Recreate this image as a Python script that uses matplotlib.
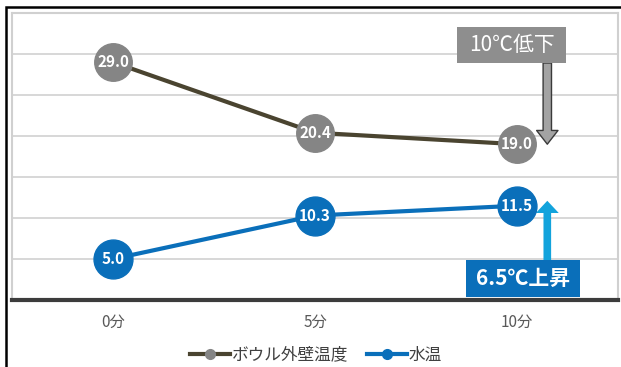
import matplotlib.pyplot as plt
from matplotlib.lines import Line2D
from matplotlib.patches import Rectangle

plt.rcParams['font.family'] = ['Noto Sans CJK JP', 'DejaVu Sans']

times = ['0分', '5分', '10分']
wall_temp = [29.0, 20.4, 19.0]
water_temp = [5.0, 10.3, 11.5]
wall_label = 'ボウル外壁温度'
water_label = '水温'
drop_text = '10℃低下'
rise_text = '6.5℃上昇'

wall_color = '#4a4430'
wall_marker = '#858585'
water_color = '#0a6fba'
rise_arrow = '#12a3dc'

W, H = 621, 367
fig = plt.figure(figsize=(W / 100, H / 100), dpi=100)
ax = fig.add_axes([12 / W, 67 / H, 606 / W, 287 / H])

x = range(len(times))
ax.plot(x, wall_temp, color=wall_color, lw=3, marker='o', ms=27,
        mfc=wall_marker, mec=wall_marker, zorder=3)
ax.plot(x, water_temp, color=water_color, lw=3, marker='o', ms=28,
        mfc=water_color, mec=water_color, zorder=3)

for xi, v in zip(x, wall_temp):
    ax.text(xi, v, f'{v:.1f}', color='white', fontsize=11, fontweight='bold',
            ha='center', va='center', zorder=4)
for xi, v in zip(x, water_temp):
    ax.text(xi, v, f'{v:.1f}', color='white', fontsize=11, fontweight='bold',
            ha='center', va='center', zorder=4)

ax.set_xlim(-0.5, 2.5)
ax.set_ylim(0, 35)
ax.set_xticks(list(x))
ax.set_xticklabels(times, color='#595959', fontsize=11)
ax.set_yticks(range(5, 35, 5))
ax.tick_params(axis='y', left=False, labelleft=False)
ax.tick_params(axis='x', length=0, pad=10)
ax.grid(axis='y', color='#d4d4d4', lw=1.3)
ax.set_axisbelow(True)
for s in ['left', 'top', 'right']:
    ax.spines[s].set_color('#d0d0d0')
    ax.spines[s].set_linewidth(1.5)
ax.spines['bottom'].set_color('#3c3c3c')
ax.spines['bottom'].set_linewidth(3)

# change annotations on the right side
arrow_x = 2.15
ax.annotate('', xy=(arrow_x, wall_temp[-1]), xytext=(arrow_x, 28.9),
            arrowprops=dict(arrowstyle='simple,head_length=0.9,head_width=1.4,tail_width=0.55',
                            fc='#a3a3a3', ec='#3a3a3a', lw=1, mutation_scale=11,
                            shrinkA=0, shrinkB=0), zorder=2)
ax.add_patch(Rectangle((1.703, 28.9), 0.54, 4.4, fc='#8e8e8e', ec='none', zorder=5))
ax.text(1.973, 31.1, drop_text, color='white', fontsize=15,
        ha='center', va='center', zorder=6)

ax.annotate('', xy=(arrow_x, water_temp[-1] + 0.6), xytext=(arrow_x, 4.8),
            arrowprops=dict(arrowstyle='simple,head_length=0.8,head_width=1.5,tail_width=0.5',
                            fc=rise_arrow, ec=rise_arrow, lw=0, mutation_scale=11,
                            shrinkA=0, shrinkB=0), zorder=2)
ax.add_patch(Rectangle((1.748, 0.37), 0.565, 4.5, fc='#0a6fba', ec='none', zorder=5))
ax.text(2.03, 2.6, rise_text, color='white', fontsize=15, fontweight='bold',
        ha='center', va='center', zorder=6)

handles = [
    Line2D([], [], color=wall_color, lw=3, marker='o', ms=7,
           mfc=wall_marker, mec=wall_marker),
    Line2D([], [], color=water_color, lw=3, marker='o', ms=7,
           mfc=water_color, mec=water_color),
]
fig.legend(handles, [wall_label, water_label], loc='center', ncol=2,
           bbox_to_anchor=(316 / W, 1 - 355 / H), frameon=False,
           fontsize=12, handlelength=2.4, handletextpad=0.1, columnspacing=1.1,
           labelcolor='#404040')

# outer frame
fig.patches.append(Rectangle((6 / W, -0.1), 1.2, 1 - 7 / H + 0.1,
                             transform=fig.transFigure, fill=False,
                             ec='black', lw=1.8))

fig.savefig('out.png', dpi=100)
